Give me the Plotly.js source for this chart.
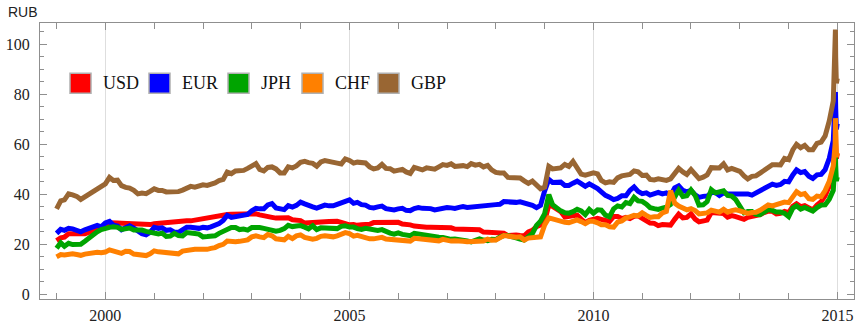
<!DOCTYPE html>
<html>
<head>
<meta charset="utf-8">
<script src="https://cdn.plot.ly/plotly-3.0.1.min.js"></script>
<style>html,body{margin:0;padding:0;background:#fff;}#chart{width:861px;height:328px;}</style>
</head>
<body>
<div id="chart"></div>
<script>
// ---- data (RUB per unit; JPH per 100 yen), monthly on the 1st, 1999-01 .. 2014-12, plus Dec-2014 detail ----
const names = ["USD", "EUR", "JPH", "CHF", "GBP"];
const colors = ["#ff0000", "#0000ff", "#00a400", "#ff8000", "#996633"];

const tailDates = ["2014-12-05", "2014-12-10", "2014-12-15", "2014-12-17", "2014-12-19", "2014-12-24", "2014-12-31"];

const usd = [
  21.5, 22.6, 22.9, 24.2, 24.2, 24.4, 24.2, 24.2, 24.8, 25.1, 26.1, 26.4,
  27.0, 28.6, 28.7, 28.5, 28.4, 28.3, 28.1, 27.8, 27.8, 27.8, 27.9, 27.9,
  28.2, 28.4, 28.7, 28.7, 28.9, 29.1, 29.2, 29.3, 29.4, 29.4, 29.7, 29.9,
  30.2, 30.8, 31.1, 31.3, 31.5, 31.6, 31.9, 32.0, 32.1, 32.1, 32.3, 32.3,
  32.2, 32.2, 31.8, 31.6, 31.2, 30.8, 30.5, 30.5, 30.6, 30.6, 29.8, 29.8,
  29.5, 28.5, 28.5, 28.5, 28.7, 29.0, 29.0, 29.1, 29.2, 29.2, 28.8, 28.2,
  27.8, 27.9, 27.6, 27.8, 27.7, 28.0, 28.7, 28.7, 28.5, 28.5, 28.7, 28.7,
  28.8, 28.1, 28.1, 27.8, 27.3, 27.0, 27.0, 26.8, 26.8, 26.8, 26.7, 26.4,
  26.3, 26.6, 26.1, 26.0, 25.9, 25.8, 25.8, 25.5, 25.8, 24.9, 24.8, 24.4,
  24.6, 24.5, 24.5, 23.5, 23.7, 23.7, 23.5, 23.4, 25.0, 25.6, 27.1, 27.8,
  29.4, 35.7, 35.2, 34.0, 33.1, 30.9, 31.2, 31.4, 31.7, 30.1, 28.7, 29.6,
  30.2, 30.4, 30.0, 29.4, 29.2, 31.1, 31.1, 30.3, 30.8, 30.3, 31.2, 31.4,
  30.5, 29.6, 28.5, 28.4, 27.5, 27.9, 27.9, 27.7, 30.0, 32.1, 30.6, 30.8,
  32.2, 30.1, 29.0, 29.3, 29.7, 32.7, 32.5, 32.2, 32.3, 30.9, 31.5, 31.1,
  30.4, 30.0, 30.8, 31.1, 31.2, 31.9, 32.7, 33.3, 33.2, 32.2, 32.4, 33.2,
  32.7, 35.2, 36.2, 35.1, 35.5, 34.4, 33.8, 35.7, 37.1, 39.4, 43.4, 49.3
];
const usdTail = [53.0, 54.0, 58.3, 67.8, 60.7, 54.3, 56.3];

const eur = [
  24.4, 26.0, 25.6, 26.4, 26.2, 25.4, 25.0, 25.8, 26.4, 27.4, 27.6, 27.0,
  28.6, 29.2, 27.7, 27.3, 25.8, 26.6, 27.4, 26.5, 25.2, 24.3, 23.8, 24.8,
  26.8, 26.4, 26.6, 25.6, 25.8, 24.9, 24.8, 25.8, 26.8, 26.8, 26.6, 26.4,
  26.8, 26.6, 27.0, 27.4, 28.3, 29.6, 31.6, 30.8, 31.0, 31.2, 31.6, 32.0,
  33.4, 34.4, 34.2, 34.2, 35.8, 36.3, 34.6, 34.2, 33.9, 35.5, 34.9, 35.6,
  36.9, 36.2, 35.4, 35.0, 34.5, 35.0, 35.7, 35.4, 35.4, 36.0, 36.6, 37.5,
  37.8, 36.4, 36.8, 35.9, 35.7, 34.8, 34.6, 35.0, 35.3, 34.3, 34.0, 33.8,
  34.2, 34.4, 33.6, 33.5, 34.3, 34.7, 34.4, 34.4, 34.3, 33.8, 34.2, 34.8,
  34.7, 34.6, 34.4, 34.8, 35.1, 34.8, 35.0, 35.2, 35.1, 35.3, 35.9, 35.9,
  35.9, 36.0, 37.1, 37.0, 36.7, 36.8, 37.0, 36.6, 36.0, 35.6, 34.7, 35.6,
  41.4, 46.0, 44.8, 44.6, 44.9, 43.6, 43.6, 44.5, 45.3, 44.3, 43.2, 44.2,
  43.4, 42.3, 41.0, 39.6, 38.9, 37.9, 38.4, 39.4, 39.4, 41.6, 43.0, 41.2,
  40.3, 40.6, 39.7, 40.2, 40.8, 40.2, 40.6, 39.6, 42.6, 43.4, 41.6, 41.0,
  41.6, 39.8, 38.8, 39.2, 39.3, 40.6, 40.8, 39.6, 40.6, 40.2, 40.2, 40.2,
  40.2, 40.3, 40.2, 39.7, 40.6, 41.9, 42.7, 43.4, 44.1, 43.6, 44.0, 45.2,
  45.0, 47.8, 49.8, 48.7, 49.1, 47.3, 46.4, 47.8, 48.0, 49.9, 54.4, 61.5
];
const eurTail = [65.4, 66.8, 72.5, 81.0, 74.5, 66.0, 68.3];

const jph = [
  18.4, 20.6, 19.2, 20.4, 19.9, 20.2, 20.0, 21.2, 22.7, 23.7, 25.0, 25.9,
  26.5, 26.8, 27.0, 26.8, 26.0, 26.4, 26.5, 25.7, 25.9, 25.7, 25.2, 24.9,
  24.6, 24.2, 24.5, 23.2, 23.3, 24.4, 23.5, 23.4, 24.7, 24.3, 24.3, 24.1,
  23.0, 23.1, 23.2, 23.4, 24.4, 25.2, 26.4, 26.7, 26.7, 25.9, 26.1, 25.7,
  26.7, 26.8, 26.7, 26.4, 26.1, 25.8, 25.3, 25.6, 26.3, 27.6, 27.1, 27.3,
  27.5, 26.9, 26.2, 27.4, 25.9, 26.6, 26.6, 26.2, 26.6, 26.3, 27.2, 27.4,
  26.9, 26.9, 26.3, 26.0, 26.4, 26.0, 25.8, 25.6, 25.9, 25.0, 24.5, 24.1,
  24.6, 24.0, 24.0, 23.5, 24.4, 24.1, 23.7, 23.3, 22.9, 22.7, 22.8, 22.7,
  22.1, 22.0, 22.1, 22.0, 21.5, 21.4, 21.0, 21.4, 22.2, 21.7, 21.5, 22.0,
  21.9, 22.9, 23.5, 23.5, 22.8, 22.6, 22.1, 21.7, 23.1, 24.3, 27.6, 29.3,
  32.3, 39.9, 35.9, 34.3, 33.4, 32.6, 32.5, 33.1, 34.0, 33.4, 31.9, 34.0,
  32.5, 33.8, 33.7, 31.7, 31.0, 34.2, 35.4, 35.0, 36.7, 36.3, 38.8, 37.4,
  37.2, 36.1, 34.7, 34.3, 34.0, 34.5, 34.9, 36.0, 39.0, 41.7, 39.2, 39.5,
  41.8, 39.6, 35.7, 35.8, 37.1, 41.9, 40.6, 41.0, 41.4, 39.6, 39.3, 37.9,
  35.1, 32.6, 33.1, 33.1, 32.0, 31.9, 32.9, 33.9, 33.6, 32.9, 32.9, 32.4,
  31.1, 34.5, 35.4, 34.1, 34.8, 33.8, 33.3, 34.7, 35.7, 35.8, 38.1, 41.6
];
const jphTail = [44.2, 45.4, 49.2, 56.0, 51.5, 45.4, 47.0];

const chf = [
  15.0, 15.9, 15.7, 16.2, 16.2, 15.9, 15.6, 16.1, 16.4, 16.8, 16.8, 16.6,
  16.9, 17.8, 17.3, 17.1, 16.4, 17.2, 17.1, 16.1, 15.8, 15.7, 15.5, 16.2,
  17.4, 17.0, 16.9, 16.5, 16.6, 16.2, 16.2, 17.3, 17.7, 18.1, 18.0, 18.0,
  17.9, 18.0, 18.4, 18.7, 19.5, 20.0, 21.3, 21.0, 21.0, 21.2, 21.6, 21.8,
  23.0, 23.4, 23.0, 22.7, 23.9, 23.4, 22.2, 21.9, 21.8, 23.2, 22.3, 23.4,
  23.8, 22.8, 22.5, 22.1, 22.4, 23.2, 23.4, 23.1, 23.0, 23.4, 24.2, 24.7,
  24.3, 23.3, 23.6, 23.1, 23.1, 22.2, 22.2, 22.3, 22.8, 22.1, 21.9, 21.9,
  22.0, 21.8, 21.5, 21.3, 22.4, 22.2, 21.8, 21.8, 21.6, 21.2, 21.4, 22.0,
  21.6, 21.3, 21.4, 21.5, 21.2, 21.0, 21.1, 21.3, 21.5, 21.3, 22.1, 21.6,
  21.7, 22.5, 23.5, 23.3, 22.8, 22.8, 23.0, 21.7, 22.5, 22.6, 23.2, 23.0,
  27.8, 30.6, 30.2, 29.7, 29.1, 28.8, 28.7, 29.2, 29.8, 29.1, 28.3, 29.2,
  29.2, 28.6, 27.8, 27.8, 27.0, 26.9, 28.9, 29.4, 30.6, 31.0, 31.6, 31.4,
  32.6, 31.6, 30.8, 31.0, 31.0, 32.6, 33.2, 41.5, 36.5, 35.3, 34.5, 33.8,
  34.3, 33.5, 32.2, 32.6, 32.6, 33.7, 33.1, 32.9, 34.0, 32.9, 33.5, 33.8,
  33.4, 33.0, 32.4, 32.7, 32.8, 33.6, 34.8, 35.8, 35.4, 35.8, 36.0, 36.9,
  36.7, 39.1, 41.1, 39.9, 40.3, 38.3, 38.0, 39.3, 39.1, 41.5, 45.2, 51.4
];
const chfTail = [54.5, 55.5, 60.2, 70.5, 62.7, 55.0, 56.8];

const gbp = [
  34.2, 37.4, 37.8, 40.2, 39.8, 39.2, 38.0, 39.0, 40.2, 41.3, 42.4, 42.8,
  44.2, 46.8, 45.6, 45.7, 43.5, 42.8, 42.5, 41.6, 40.2, 40.5, 40.3, 41.2,
  42.2, 41.6, 41.6, 41.0, 41.0, 40.8, 41.1, 41.7, 42.6, 43.2, 42.9, 43.2,
  43.8, 43.6, 44.0, 44.6, 45.5, 46.0, 48.9, 48.3, 49.4, 49.4, 49.6, 50.4,
  51.3, 52.3, 50.0, 49.4, 50.8, 51.0, 50.2, 48.6, 48.6, 51.0, 50.6, 51.4,
  52.8, 53.2, 52.7, 52.4, 51.3, 53.0, 53.5, 53.0, 52.5, 52.5, 52.2, 54.2,
  53.6, 52.5, 52.9, 52.5, 52.6, 51.0, 50.2, 50.6, 52.0, 50.4, 50.3, 49.3,
  49.6, 50.0, 49.0, 48.4, 50.8, 50.4, 49.8, 50.6, 50.2, 50.1, 51.0, 51.9,
  51.6, 52.2, 51.2, 51.5, 51.5, 51.1, 52.3, 51.7, 52.0, 51.0, 51.6, 49.8,
  48.8, 48.6, 48.6, 46.8, 46.8, 46.6, 46.6, 45.4, 44.4, 45.3, 43.6, 42.2,
  42.9, 51.2, 50.2, 50.3, 50.6, 52.0, 51.2, 53.2, 51.0, 48.1, 47.7, 48.0,
  48.6, 48.2, 45.6, 44.6, 45.0, 44.8, 46.6, 47.4, 47.6, 48.0, 49.4, 49.0,
  47.6, 47.7, 46.0, 45.8, 46.2, 46.0, 45.6, 46.2, 48.3, 50.4, 49.0, 48.0,
  49.9, 47.6, 46.3, 46.9, 47.8, 50.7, 50.6, 50.6, 52.2, 49.8, 50.4, 50.0,
  49.2, 47.4, 46.2, 47.2, 47.4, 48.5, 49.7, 50.6, 51.9, 51.9, 51.8, 54.4,
  53.9, 57.8, 60.0, 58.7, 59.6, 57.9, 57.9, 60.4, 60.9, 63.4, 69.4, 77.4
];
const gbpTail = [83.0, 84.6, 91.5, 106.0, 95.0, 84.5, 86.5];

const xTickLabels = ["2000", "2005", "2010", "2015"];
const yAxisLabel = "RUB";

// ---- build monthly date axis ----
const months = [];
for (let y = 1999; y <= 2014; y++) {
  for (let m = 1; m <= 12; m++) months.push(y + "-" + String(m).padStart(2, "0") + "-01");
}
const dates = months.concat(tailDates);
const seriesValues = [usd.concat(usdTail), eur.concat(eurTail), jph.concat(jphTail), chf.concat(chfTail), gbp.concat(gbpTail)];

const traces = names.map((n, i) => ({
  type: "scatter", mode: "lines", name: n,
  x: dates, y: seriesValues[i],
  line: {color: colors[i], width: 5},
  showlegend: false, hoverinfo: "skip"
}));

// ---- layout geometry ----
const W = 861, H = 328, ML = 40, MR = 7, MT = 23, MB = 29;
const PW = W - ML - MR, PH = H - MT - MB;
const px = x => (x - ML) / PW;
const py = y => (H - MB - y) / PH;

const legendSquareX = [70, 149, 228, 302, 378];
const legendSize = 20, legendCenterY = 83.3;

const SERIF = "Liberation Serif";

const shapes = [];
const annotations = [];
names.forEach((n, i) => {
  const x0 = legendSquareX[i];
  shapes.push({
    type: "rect", xref: "paper", yref: "paper",
    x0: px(x0), x1: px(x0 + legendSize + 1),
    y0: py(legendCenterY + legendSize / 2), y1: py(legendCenterY - legendSize / 2),
    fillcolor: colors[i], line: {color: "#b0b0b0", width: 1.5}
  });
  annotations.push({
    xref: "paper", yref: "paper", x: px(x0 + 31), y: py(legendCenterY),
    xanchor: "left", yanchor: "middle", showarrow: false, text: n,
    font: {family: SERIF, size: 18, color: "#111"}
  });
});
annotations.push({
  xref: "paper", yref: "paper", x: px(22.5), y: py(12),
  xanchor: "center", yanchor: "middle", showarrow: false, text: yAxisLabel,
  font: {family: "Liberation Sans", size: 14, color: "#222"}
});

const layout = {
  width: W, height: H,
  font: {family: SERIF, size: 16, color: "#222"},
  margin: {l: ML, r: MR, t: MT, b: MB, pad: 0},
  paper_bgcolor: "#ffffff", plot_bgcolor: "#ffffff",
  showlegend: false,
  xaxis: {
    type: "date", range: ["1998-08-30", "2015-05-05"],
    showline: true, linecolor: "#8f8f8f", linewidth: 1, mirror: "ticks",
    ticks: "inside", ticklen: 7, tickcolor: "#8f8f8f", tickwidth: 1,
    tickmode: "array", tickvals: xTickLabels.map(t => t + "-01-01"), ticktext: xTickLabels,
    showgrid: true, gridcolor: "#dedede", gridwidth: 1, zeroline: false,
    tickfont: {family: SERIF, size: 16, color: "#222"}, ticklabelstandoff: 2,
    minor: {dtick: "M12", tick0: "1999-01-01", ticks: "inside", ticklen: 6, tickcolor: "#8f8f8f", showgrid: false}
  },
  yaxis: {
    range: [-1.88, 108.6],
    showline: true, linecolor: "#8f8f8f", linewidth: 1, mirror: "ticks",
    ticks: "inside", ticklen: 7, tickcolor: "#8f8f8f", tickwidth: 1,
    tick0: 0, dtick: 20,
    showgrid: false, zeroline: false,
    tickfont: {family: SERIF, size: 16, color: "#222"}, ticklabelstandoff: 6,
    minor: {dtick: 5, tick0: 0, ticks: "inside", ticklen: 4, tickcolor: "#8f8f8f", showgrid: false}
  },
  shapes: shapes,
  annotations: annotations
};

Plotly.newPlot("chart", traces, layout, {displayModeBar: false, staticPlot: true});
</script>
</body>
</html>
